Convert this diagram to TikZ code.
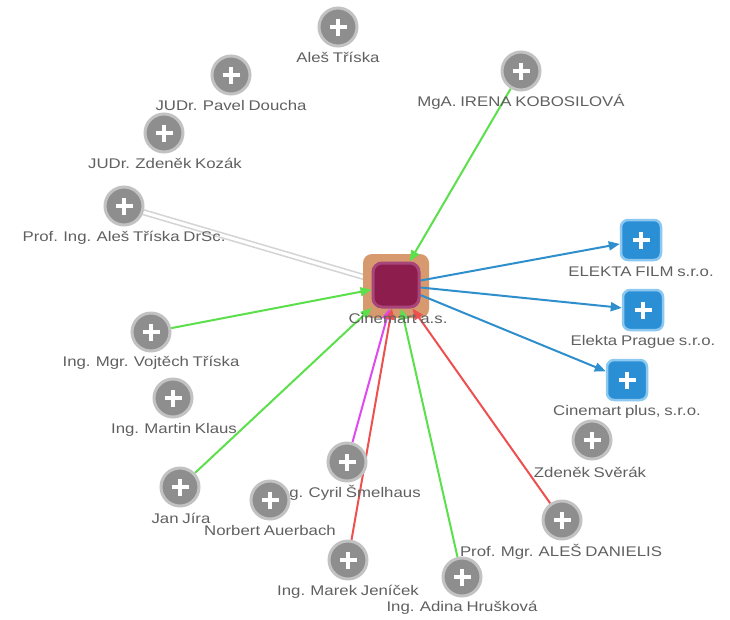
\documentclass[tikz,border=0pt]{standalone}
\usepackage{fontspec}
\setmainfont{Liberation Sans}[FakeStretch=1.2,WordSpace=0.8]
\usetikzlibrary{arrows.meta}
\pgfdeclarelayer{bg}
\pgfdeclarelayer{back}
\pgfdeclarelayer{edges}
\pgfsetlayers{bg,back,edges,main}
\definecolor{txtc}{HTML}{606060}
\definecolor{pfill}{HTML}{8E8E8E}
\definecolor{pring}{HTML}{C2C2C2}
\definecolor{bfill}{HTML}{2B8FD6}
\definecolor{bring}{HTML}{8CC8F0}
\definecolor{gedge}{HTML}{5BE04B}
\definecolor{bedge}{HTML}{2F8FCD}
\definecolor{redge}{HTML}{EE5050}
\definecolor{medge}{HTML}{E048F0}
\definecolor{lgedge}{HTML}{D4D4D4}
\definecolor{orng}{HTML}{D69A6E}
\definecolor{crim}{HTML}{8D1D4C}
\definecolor{crimring}{HTML}{A8457A}
\tikzset{
  plussign/.style={path picture={
    \draw[white,line width=3.6pt] ([xshift=-8.5pt]path picture bounding box.center) -- ([xshift=8.5pt]path picture bounding box.center);
    \draw[white,line width=3.6pt] ([yshift=-8.5pt]path picture bounding box.center) -- ([yshift=8.5pt]path picture bounding box.center);}},
  person/.style={circle,fill=pfill,draw=pring,line width=3pt,minimum size=38pt,inner sep=0pt,plussign},
  firm/.style={rectangle,rounded corners=7pt,fill=bfill,draw=bring,line width=2.5pt,minimum size=40pt,inner sep=0pt,plussign},
  lab/.style={text=txtc,font=\fontsize{14}{16}\selectfont,inner sep=1pt},
  edge/.style={line width=2pt},
  tip/.style={-{Triangle[length=11pt,width=9pt]}},
}
\begin{document}
\begin{tikzpicture}[x=1pt,y=-1pt]
\useasboundingbox (0,0) rectangle (730,619);
% center
\begin{pgfonlayer}{back}
\node[rectangle,rounded corners=9pt,fill=orng,minimum width=66pt,minimum height=64pt,inner sep=0pt] (cinbg) at (396,286) {};
\end{pgfonlayer}
\node[rectangle,rounded corners=9pt,fill=crim,draw=crimring,line width=3pt,minimum width=46pt,minimum height=44pt,inner sep=0pt] (cin) at (396,285) {};
\node[lab] (lcin) at (398,318) {Cinemart a.s.};
% persons
\node[person] (ales) at (338,27) {};
\node[lab] (lales) at (338,57) {Aleš Tříska};
\node[person] (doucha) at (231,75) {};
\node[lab] (ldoucha) at (231,105) {JUDr. Pavel Doucha};
\node[person] (kozak) at (164,133) {};
\node[lab] (lkozak) at (165,163) {JUDr. Zdeněk Kozák};
\node[person] (prof) at (124,206) {};
\node[lab] (lprof) at (124,238) {Prof. Ing. Aleš Tříska DrSc.};
\node[person] (irena) at (521,71) {};
\node[lab] (lirena) at (521,102) {MgA. IRENA KOBOSILOVÁ};
\node[person] (vojtech) at (151,332) {};
\node[lab] (lvojtech) at (151,363) {Ing. Mgr. Vojtěch Tříska};
\node[person] (klaus) at (173,398) {};
\node[lab] (lklaus) at (174,430) {Ing. Martin Klaus};
\node[person] (jira) at (180,487) {};
\node[lab] (ljira) at (181,518) {Jan Jíra};
\node[person] (cyril) at (347,462) {};
\node[lab] (lcyril) at (348,493) {Ing. Cyril Šmelhaus};
\node[person] (auerbach) at (270,500) {};
\node[lab] (lauerbach) at (270,530) {Norbert Auerbach};
\node[person] (marek) at (348,560) {};
\node[lab] (lmarek) at (348,592) {Ing. Marek Jeníček};
\node[person] (danielis) at (562,520) {};
\node[lab] (ldanielis) at (561,552) {Prof. Mgr. ALEŠ DANIELIS};
\node[person] (adina) at (462,577) {};
\node[lab] (ladina) at (462,608) {Ing. Adina Hrušková};
\node[person] (sverak) at (592,440) {};
\node[lab] (lsverak) at (590,472) {Zdeněk Svěrák};
% firms
\node[firm] (efilm) at (641,240) {};
\node[lab] (lefilm) at (641,272) {ELEKTA FILM s.r.o.};
\node[firm] (eprague) at (643,310) {};
\node[lab] (leprague) at (643,342) {Elekta Prague s.r.o.};
\node[firm] (cplus) at (627,380) {};
\node[lab] (lcplus) at (627,412) {Cinemart plus, s.r.o.};
% edges
\begin{pgfonlayer}{bg}
\fill[white] (0,0) rectangle (730,619);
\draw[edge,lgedge,line width=1.5pt] ([yshift=2pt]prof.center) -- ([yshift=2pt]cinbg.center);
\draw[edge,lgedge,line width=1.5pt] ([yshift=-3pt]prof.center) -- ([yshift=-3pt]cinbg.center);
\end{pgfonlayer}
\begin{pgfonlayer}{edges}
\draw[edge,tip,gedge] (irena) -- (cin);
\draw[edge,tip,gedge] (vojtech) -- (cin);
\draw[edge,tip,gedge] (jira) -- (cin);
\draw[edge,tip,medge] (cyril) -- (cin);
\draw[edge,tip,redge] (marek) -- (cin);
\draw[edge,tip,gedge] (adina) -- (cin);
\draw[edge,tip,redge] (danielis) -- (cin);
\draw[edge,tip,bedge] (cin) -- (efilm);
\draw[edge,tip,bedge] (cin) -- (eprague);
\draw[edge,tip,bedge] (cin) -- (cplus);
\end{pgfonlayer}
\end{tikzpicture}
\end{document}
